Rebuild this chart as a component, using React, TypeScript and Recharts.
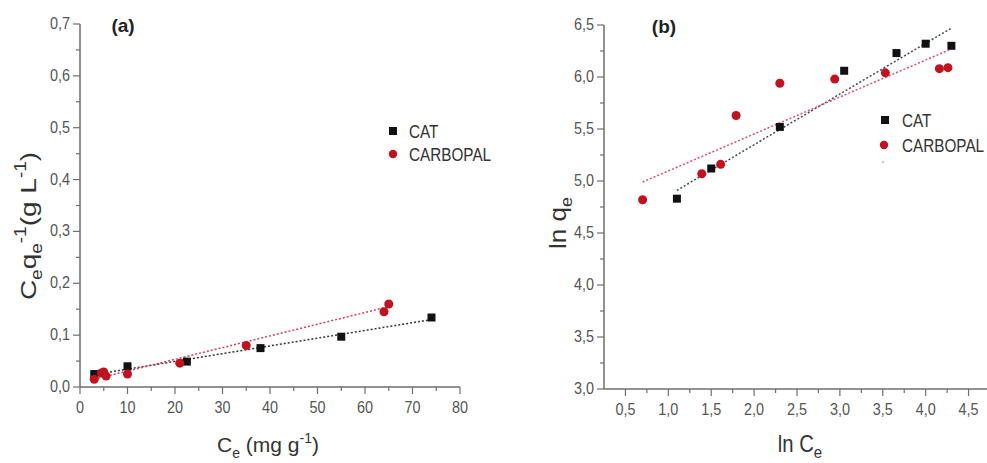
import React from 'react'
import { ScatterChart, Scatter, XAxis, YAxis, ZAxis, ReferenceLine } from 'recharts'

// (a) linear Langmuir plot: Ce/qe vs Ce
const catCeA = [3, 10, 22.5, 38, 55, 74]
const catRatioA = [0.025, 0.04, 0.049, 0.075, 0.097, 0.134]
const carbCeA = [3, 4.5, 5, 5.5, 10, 21, 35, 64, 65]
const carbRatioA = [0.015, 0.027, 0.029, 0.021, 0.025, 0.046, 0.08, 0.145, 0.16]
const catFitAx = [3, 74]
const catFitAy = [0.024, 0.13]
const carbFitAx = [3, 65]
const carbFitAy = [0.015, 0.155]

// (b) Freundlich plot: ln qe vs ln Ce
const catLnCe = [1.1, 1.5, 2.3, 3.05, 3.66, 4.0, 4.3]
const catLnQe = [4.83, 5.12, 5.52, 6.06, 6.23, 6.32, 6.3]
const carbLnCe = [0.7, 1.39, 1.61, 1.79, 2.3, 2.94, 3.53, 4.16, 4.26]
const carbLnQe = [4.82, 5.07, 5.16, 5.63, 5.94, 5.98, 6.04, 6.08, 6.09]
const catFitBx = [1.1, 4.3]
const catFitBy = [4.91, 6.47]
const carbFitBx = [0.7, 4.3]
const carbFitBy = [4.99, 6.27]

// ticks
const xMajorA = [0, 10, 20, 30, 40, 50, 60, 70, 80]
const xMinorA = [5, 15, 25, 35, 45, 55, 65, 75]
const yMajorA = [0, 0.1, 0.2, 0.3, 0.4, 0.5, 0.6, 0.7]
const yMinorA = [0.05, 0.15, 0.25, 0.35, 0.45, 0.55, 0.65]
const xMajorB = [0.5, 1, 1.5, 2, 2.5, 3, 3.5, 4, 4.5]
const xMinorB = [0.75, 1.25, 1.75, 2.25, 2.75, 3.25, 3.75, 4.25]
const yMajorB = [3, 3.5, 4, 4.5, 5, 5.5, 6, 6.5]
const yMinorB = [3.25, 3.75, 4.25, 4.75, 5.25, 5.75, 6.25]

const AXIS = '#6e6e6e'
const TICKTXT = '#555'
const BLACK = '#111'
const RED = '#c0121f'
const FONT = "'Liberation Sans', Arial, sans-serif"

const zip = (xs: number[], ys: number[]) => xs.map((x, i) => ({ x, y: ys[i] }))

const isMajor = (majors: number[], v: number) => majors.some((m) => Math.abs(m - v) < 1e-9)

const makeYTick = (majors: number[], fmt: (v: number) => string) => (props: any) => {
  const { x, y, payload } = props
  const ax = x + 8
  const major = isMajor(majors, payload.value)
  return (
    <g>
      <line x1={ax - (major ? 7 : 4)} x2={ax} y1={y} y2={y} stroke={AXIS} strokeWidth={1.2} />
      {major && (
        <text
          transform={`translate(${ax - 10},${y + 5}) scale(0.9,1)`}
          textAnchor="end"
          fontSize={16}
          fontFamily={FONT}
          fill={TICKTXT}
        >
          {fmt(payload.value)}
        </text>
      )}
    </g>
  )
}

const makeXTick = (majors: number[], fmt: (v: number) => string) => (props: any) => {
  const { x, y, payload } = props
  const ay = y - 8
  const major = isMajor(majors, payload.value)
  return (
    <g>
      <line x1={x} x2={x} y1={ay} y2={ay + (major ? 7 : 4)} stroke={AXIS} strokeWidth={1.2} />
      {major && (
        <text
          transform={`translate(${x},${ay + 26}) scale(0.9,1)`}
          textAnchor="middle"
          fontSize={16}
          fontFamily={FONT}
          fill={TICKTXT}
        >
          {fmt(payload.value)}
        </text>
      )}
    </g>
  )
}

const comma = (d: number) => (v: number) => v.toFixed(d).replace('.', ',')

export default function App() {
  const catA = zip(catCeA, catRatioA)
  const carbA = zip(carbCeA, carbRatioA)
  const catB = zip(catLnCe, catLnQe)
  const carbB = zip(carbLnCe, carbLnQe)

  return (
    <div
      style={{
        position: 'absolute',
        left: 0,
        top: 0,
        width: 987,
        height: 463,
        overflow: 'hidden',
        background: '#fff',
      }}
    >
      {/* panel (a) */}
      <div style={{ position: 'absolute', left: 0, top: 0 }}>
        <ScatterChart width={480} height={463} margin={{ top: 24, right: 20, bottom: 46, left: 40 }}>
          <XAxis
            type="number"
            dataKey="x"
            domain={[0, 80]}
            ticks={[...xMajorA, ...xMinorA].sort((a, b) => a - b)}
            interval={0}
            height={30}
            tickSize={6}
            tickMargin={2}
            tickLine={false}
            tick={makeXTick(xMajorA, (v) => String(v))}
            axisLine={{ stroke: AXIS, strokeWidth: 1.5 }}
          />
          <YAxis
            type="number"
            dataKey="y"
            domain={[0, 0.7]}
            ticks={[...yMajorA, ...yMinorA].sort((a, b) => a - b)}
            interval={0}
            width={40}
            tickSize={6}
            tickMargin={2}
            tickLine={false}
            tick={makeYTick(yMajorA, comma(1))}
            axisLine={{ stroke: AXIS, strokeWidth: 1.5 }}
          />
          <ZAxis range={[80, 80]} />
          <ReferenceLine
            segment={zip(catFitAx, catFitAy)}
            stroke="#333"
            strokeWidth={1.5}
            strokeDasharray="2 2"
            ifOverflow="visible"
          />
          <ReferenceLine
            segment={zip(carbFitAx, carbFitAy)}
            stroke="#d8405a"
            strokeWidth={1.5}
            strokeDasharray="2 2"
            ifOverflow="visible"
          />
          <Scatter name="CAT" data={catA} fill={BLACK} shape="square" isAnimationActive={false} />
          <Scatter name="CARBOPAL" data={carbA} fill={RED} shape="circle" isAnimationActive={false} />
        </ScatterChart>
      </div>

      {/* panel (b) */}
      <div style={{ position: 'absolute', left: 480, top: 0 }}>
        <ScatterChart width={515} height={463} margin={{ top: 25, right: 5, bottom: 44, left: 84 }}>
          <XAxis
            type="number"
            dataKey="x"
            domain={[0.25, 4.75]}
            ticks={[...xMajorB, ...xMinorB].sort((a, b) => a - b)}
            interval={0}
            height={30}
            tickSize={6}
            tickMargin={2}
            tickLine={false}
            tick={makeXTick(xMajorB, comma(1))}
            axisLine={{ stroke: AXIS, strokeWidth: 1.5 }}
          />
          <YAxis
            type="number"
            dataKey="y"
            domain={[3, 6.5]}
            ticks={[...yMajorB, ...yMinorB].sort((a, b) => a - b)}
            interval={0}
            width={40}
            tickSize={6}
            tickMargin={2}
            tickLine={false}
            tick={makeYTick(yMajorB, comma(1))}
            axisLine={{ stroke: AXIS, strokeWidth: 1.5 }}
          />
          <ZAxis range={[80, 80]} />
          <ReferenceLine
            segment={zip(catFitBx, catFitBy)}
            stroke="#3c4a5c"
            strokeWidth={1.5}
            strokeDasharray="2 2"
            ifOverflow="visible"
          />
          <ReferenceLine
            segment={zip(carbFitBx, carbFitBy)}
            stroke="#d8506e"
            strokeWidth={1.5}
            strokeDasharray="2 2"
            ifOverflow="visible"
          />
          <Scatter name="CAT" data={catB} fill={BLACK} shape="square" isAnimationActive={false} />
          <Scatter name="CARBOPAL" data={carbB} fill={RED} shape="circle" isAnimationActive={false} />
        </ScatterChart>
      </div>

      {/* titles, axis labels and legends */}
      <svg
        width={987}
        height={463}
        style={{ position: 'absolute', left: 0, top: 0, pointerEvents: 'none' }}
        fontFamily={FONT}
      >
        <text x={123} y={32} textAnchor="middle" fontSize={19} fontWeight="bold" fill="#222">(a)</text>
        <text x={664} y={33} textAnchor="middle" fontSize={19} fontWeight="bold" fill="#222">(b)</text>

        {/* (a) y label */}
        <text
          transform="translate(36,226) scale(0.82,1) rotate(-90)"
          textAnchor="middle"
          fontSize={28}
          fill="#333"
        >
          C<tspan fontSize={19} dy={7}>e</tspan>
          <tspan dy={-7}>q</tspan>
          <tspan fontSize={19} dy={7}>e</tspan>
          <tspan fontSize={19} dy={-19}>-1</tspan>
          <tspan dy={12}>(g L</tspan>
          <tspan fontSize={19} dy={-12}>-1</tspan>
          <tspan dy={12}>)</tspan>
        </text>

        {/* (a) x label */}
        <text x={268} y={452} textAnchor="middle" fontSize={21} fill="#333">
          C<tspan fontSize={14} dy={6}>e</tspan>
          <tspan dy={-6}> (mg g</tspan>
          <tspan fontSize={14} dy={-9}>-1</tspan>
          <tspan dy={9}>)</tspan>
        </text>

        {/* (b) y label */}
        <text
          transform="translate(566,223) scale(0.9,1) rotate(-90)"
          textAnchor="middle"
          fontSize={26}
          fill="#333"
        >
          ln q<tspan fontSize={18} dy={7}>e</tspan>
        </text>

        {/* (b) x label */}
        <text transform="translate(800,452) scale(0.88,1)" textAnchor="middle" fontSize={23} fill="#333">
          ln C<tspan fontSize={17} dy={6}>e</tspan>
        </text>

        {/* legend (a) */}
        <rect x={389} y={127} width={8} height={8} fill={BLACK} />
        <text transform="translate(409,138) scale(0.85,1)" fontSize={18} fill="#333">CAT</text>
        <circle cx={393} cy={154} r={4.2} fill={RED} />
        <text transform="translate(409,161) scale(0.85,1)" fontSize={18} fill="#333">CARBOPAL</text>

        {/* legend (b) */}
        <rect x={881} y={116} width={8} height={8} fill={BLACK} />
        <text transform="translate(902,127) scale(0.85,1)" fontSize={18} fill="#333">CAT</text>
        <circle cx={884} cy={145} r={4.2} fill={RED} />
        <text transform="translate(902,152) scale(0.85,1)" fontSize={18} fill="#333">CARBOPAL</text>
        <circle cx={883} cy={162} r={1.5} fill="#d0d0d0" />
      </svg>
    </div>
  )
}
